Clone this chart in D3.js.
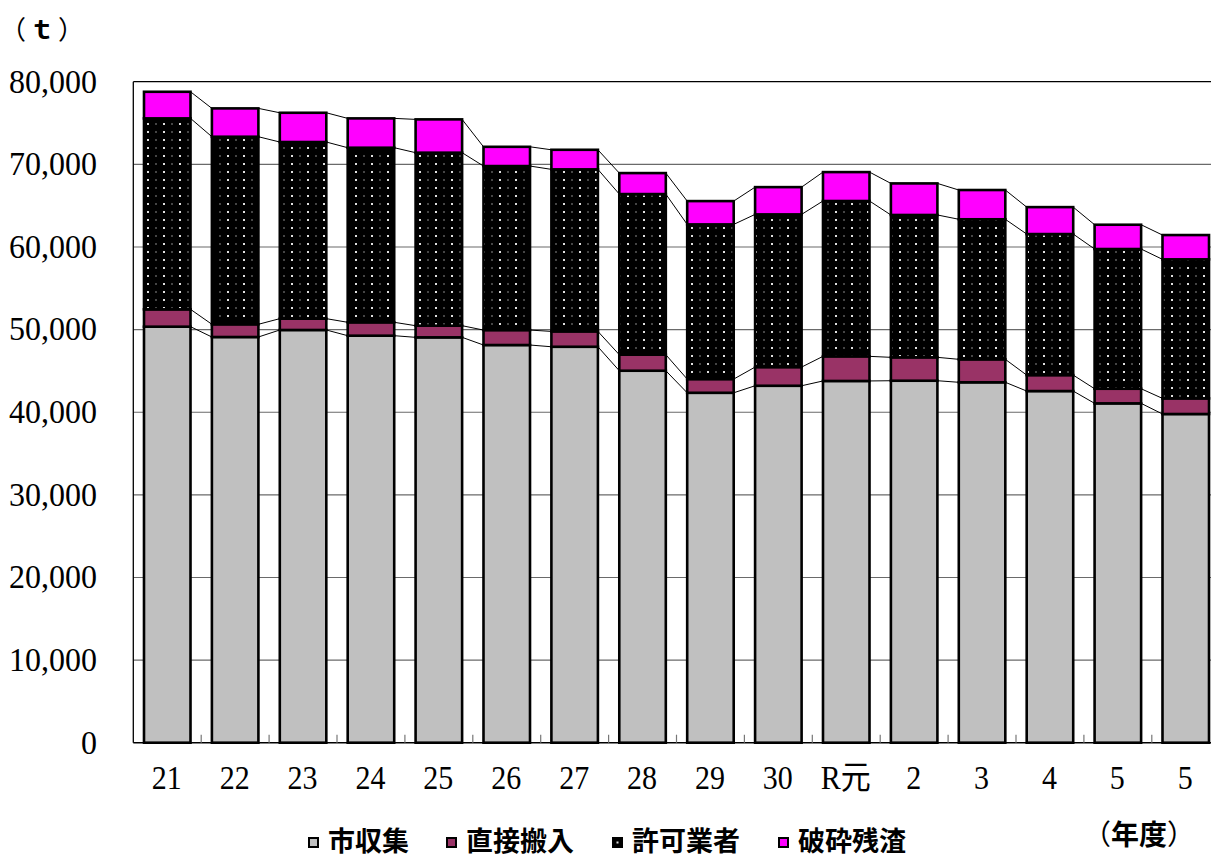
<!DOCTYPE html>
<html>
<head>
<meta charset="utf-8">
<script src="https://cdn.jsdelivr.net/npm/d3@7/dist/d3.min.js"></script>
<style>
  html, body { margin: 0; padding: 0; background: #fff; }
  svg { display: block; }
</style>
</head>
<body>
<svg id="chart" width="1211" height="859"></svg>
<script>
// Fiscal years (Heisei 21 … Reiwa 5)
const categories = ["21", "22", "23", "24", "25", "26", "27", "28", "29", "30", "R元", "2", "3", "4", "5", "5"];

// Tonnage per collection route (t)
const cityCollection  = [50350, 49100, 49950, 49260, 49060, 48130, 47920, 45020, 42350, 43200, 43780, 43810, 43620, 42560, 41070, 39780];
const directHauling   = [2100, 1540, 1370, 1620, 1410, 1810, 1860, 1940, 1660, 2260, 2980, 2830, 2780, 1930, 1770, 1890];
const licensedHaulers = [23110, 22700, 21380, 21130, 20940, 19850, 19610, 19440, 18720, 18480, 18800, 17230, 16950, 17070, 16910, 16830];
const crushingResidue = [3220, 3430, 3540, 3550, 4030, 2330, 2370, 2540, 2820, 3300, 3500, 3820, 3540, 3260, 2940, 2940];

const seriesNames = ["市収集", "直接搬入", "許可業者", "破砕残渣"];
const yTicks = [0, 10000, 20000, 30000, 40000, 50000, 60000, 70000, 80000];

const svg = d3.select("#chart");

const plot = { left: 133.3, top: 81.7, width: 1086.4, bottom: 742.7 };

const rows = categories.map((c, i) => ({
  idx: i,
  label: c,
  "市収集": cityCollection[i],
  "直接搬入": directHauling[i],
  "許可業者": licensedHaulers[i],
  "破砕残渣": crushingResidue[i]
}));

const stack = d3.stack().keys(seriesNames)(rows);

const x = d3.scaleBand()
  .domain(rows.map(d => d.idx))
  .range([plot.left, plot.left + plot.width])
  .paddingInner(0.315)
  .paddingOuter(0.1575);

const y = d3.scaleLinear().domain([0, 80000]).range([plot.bottom, plot.top]);

// Dotted fill used for the licensed-hauler segments
const defs = svg.append("defs");
const pat = defs.append("pattern")
  .attr("id", "dots")
  .attr("patternUnits", "userSpaceOnUse")
  .attr("width", 16).attr("height", 8);
pat.append("rect").attr("width", 16).attr("height", 8).attr("fill", "#000");
pat.append("rect").attr("x", 3).attr("y", 3).attr("width", 2).attr("height", 2).attr("fill", "#e0e0e0");
pat.append("rect").attr("x", 11.5).attr("y", 3).attr("width", 1).attr("height", 2).attr("fill", "#8a8a8a");

const fills = {
  "市収集": "#C0C0C0",
  "直接搬入": "#993366",
  "許可業者": "url(#dots)",
  "破砕残渣": "#FF00FF"
};

// Gridlines
svg.append("g")
  .selectAll("line")
  .data(yTicks.filter(t => t > 0 && t < 80000))
  .join("line")
  .attr("x1", plot.left).attr("x2", plot.left + plot.width)
  .attr("y1", d => y(d)).attr("y2", d => y(d))
  .attr("stroke", "#6a6a6a").attr("stroke-width", 1.1);

// Plot frame (top and left)
svg.append("line")
  .attr("x1", plot.left).attr("x2", plot.left + plot.width)
  .attr("y1", y(80000)).attr("y2", y(80000))
  .attr("stroke", "#000").attr("stroke-width", 1.3);
svg.append("line")
  .attr("x1", plot.left).attr("x2", plot.left)
  .attr("y1", y(80000)).attr("y2", y(0))
  .attr("stroke", "#000").attr("stroke-width", 1.3);

// Series lines joining the segment tops of neighbouring bars
const lineG = svg.append("g");
stack.forEach(layer => {
  for (let i = 0; i < layer.length - 1; i++) {
    lineG.append("line")
      .attr("x1", x(i) + x.bandwidth())
      .attr("y1", y(layer[i][1]))
      .attr("x2", x(i + 1))
      .attr("y2", y(layer[i + 1][1]))
      .attr("stroke", "#000").attr("stroke-width", 1);
  }
});

// Stacked bars
svg.append("g")
  .selectAll("g")
  .data(stack)
  .join("g")
  .attr("fill", d => fills[d.key])
  .selectAll("rect")
  .data(d => d)
  .join("rect")
  .attr("x", d => x(d.data.idx))
  .attr("y", d => y(d[1]))
  .attr("width", x.bandwidth())
  .attr("height", d => y(d[0]) - y(d[1]))
  .attr("stroke", "#000")
  .attr("stroke-width", 2.6);

// Bottom axis line with inner ticks between categories
svg.append("line")
  .attr("x1", plot.left).attr("x2", plot.left + plot.width)
  .attr("y1", y(0)).attr("y2", y(0))
  .attr("stroke", "#000").attr("stroke-width", 1.5);
svg.append("g")
  .selectAll("line")
  .data(d3.range(1, categories.length))
  .join("line")
  .attr("x1", i => x(i) - x.step() * x.paddingInner() / 2)
  .attr("x2", i => x(i) - x.step() * x.paddingInner() / 2)
  .attr("y1", y(0)).attr("y2", y(0) - 8)
  .attr("stroke", "#777").attr("stroke-width", 1.2);

// Value axis labels
const serif = "'Liberation Serif', 'Times New Roman', 'Noto Sans CJK JP', serif";
const fmt = d3.format(",");
svg.append("g")
  .selectAll("text")
  .data(yTicks)
  .join("text")
  .attr("transform", d => `translate(97, ${y(d) + 10.8}) scale(1.05, 1.08)`)
  .attr("text-anchor", "end")
  .attr("font-family", serif)
  .attr("font-size", 30.5)
  .attr("fill", "#000")
  .text(d => fmt(d));

// Category labels
svg.append("g")
  .selectAll("text")
  .data(rows)
  .join("text")
  .attr("transform", d => `translate(${x(d.idx) + x.bandwidth() / 2 - 0.5}, 789.3) scale(1, 1.1)`)
  .attr("text-anchor", "middle")
  .attr("font-family", serif)
  .attr("font-size", 30)
  .attr("fill", "#000")
  .text(d => d.label);

// Unit and axis captions
const gothic = "'Noto Sans CJK JP', 'Noto Sans', sans-serif";
const unit = svg.append("text")
  .attr("x", 0).attr("y", 39)
  .attr("font-family", gothic)
  .attr("font-size", 26)
  .attr("letter-spacing", 3)
  .attr("fill", "#000");
unit.append("tspan").text("（");
unit.append("tspan").attr("font-weight", "bold").text("ｔ");
unit.append("tspan").text("）");

const yearCap = svg.append("text")
  .attr("x", 1083).attr("y", 845)
  .attr("font-family", gothic)
  .attr("font-size", 28)
  .attr("fill", "#000");
yearCap.append("tspan").text("（");
yearCap.append("tspan").attr("font-weight", "bold").text("年度");
yearCap.append("tspan").text("）");

// Legend
const legendItems = [
  { name: "市収集", sx: 309, tx: 328 },
  { name: "直接搬入", sx: 447, tx: 466 },
  { name: "許可業者", sx: 613, tx: 632 },
  { name: "破砕残渣", sx: 779, tx: 798 }
];
const legend = svg.append("g");
legendItems.forEach(it => {
  legend.append("rect")
    .attr("x", it.sx).attr("y", 838)
    .attr("width", 9).attr("height", 9)
    .attr("fill", it.name === "許可業者" ? "#000" : fills[it.name])
    .attr("stroke", "#000").attr("stroke-width", 2);
  if (it.name === "許可業者") {
    legend.append("rect")
      .attr("x", it.sx + 3.5).attr("y", 841.5)
      .attr("width", 2).attr("height", 2)
      .attr("fill", "#ddd");
  }
  legend.append("text")
    .attr("x", it.tx).attr("y", 851)
    .attr("font-family", gothic)
    .attr("font-size", 27)
    .attr("font-weight", "bold")
    .attr("fill", "#000")
    .text(it.name);
});
</script>
</body>
</html>
